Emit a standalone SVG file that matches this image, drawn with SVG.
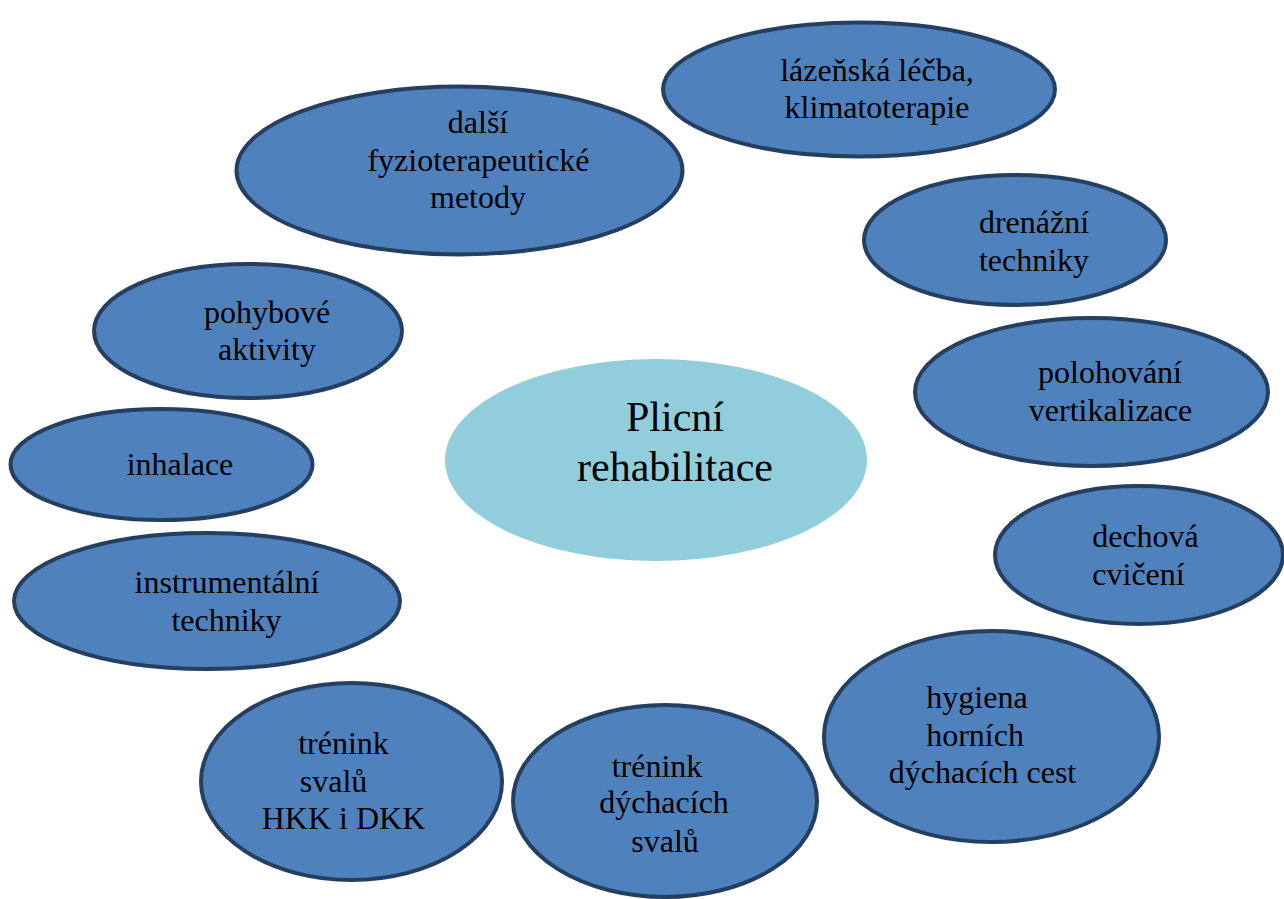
<svg xmlns="http://www.w3.org/2000/svg" width="1284" height="899" viewBox="0 0 1284 899">
<style>
.n{fill:#4f81bd;stroke:#243f60;stroke-width:4}
.c{fill:#92cddc}
text{font-family:"Liberation Serif","Times New Roman",serif;font-size:32px;fill:#000;text-anchor:middle}
.big{font-size:42px}
</style>
<rect width="1284" height="899" fill="#fff"/>
<g id="connectors"></g>
<g id="n-lazenska"><ellipse class="n" cx="859" cy="89.5" rx="196" ry="67"/><text x="877" y="81">lázeňská léčba,</text><text x="877" y="118">klimatoterapie</text></g>
<g id="n-dalsi"><ellipse class="n" cx="459.5" cy="170.5" rx="223" ry="84"/><text x="478" y="133">další</text><text x="478.5" y="171">fyzioterapeutické</text><text x="478" y="208">metody</text></g>
<g id="n-drenazni"><ellipse class="n" cx="1015" cy="240" rx="151" ry="65"/><text x="1034" y="233">drenážní</text><text x="1034" y="271">techniky</text></g>
<g id="n-pohybove"><ellipse class="n" cx="248" cy="331" rx="154" ry="67"/><text x="267" y="323">pohybové</text><text x="267" y="360">aktivity</text></g>
<g id="n-polohovani"><ellipse class="n" cx="1091.5" cy="392" rx="176.5" ry="74"/><text x="1110" y="383">polohování</text><text x="1110.5" y="421">vertikalizace</text></g>
<g id="n-inhalace"><ellipse class="n" cx="161.5" cy="464.5" rx="151" ry="55.5"/><text x="180" y="475">inhalace</text></g>
<g id="n-center"><ellipse class="c" cx="656" cy="460" rx="211" ry="101"/><text class="big" x="675" y="431">Plicní</text><text class="big" x="675" y="481">rehabilitace</text></g>
<g id="n-dechova"><ellipse class="n" cx="1139" cy="555" rx="144" ry="69"/><text x="1145.5" y="547">dechová</text><text x="1138.5" y="585">cvičení</text></g>
<g id="n-instrumentalni"><ellipse class="n" cx="207" cy="601" rx="193" ry="68"/><text x="227" y="593">instrumentální</text><text x="226.5" y="631">techniky</text></g>
<g id="n-hygiena"><ellipse class="n" cx="991.5" cy="736.5" rx="167.5" ry="105.5"/><text x="977" y="708">hygiena</text><text x="975" y="746">horních</text><text x="982.5" y="783">dýchacích cest</text></g>
<g id="n-trenink-svalu"><ellipse class="n" cx="351.5" cy="781.5" rx="150.5" ry="98.5"/><text x="343.5" y="754">trénink</text><text x="333.5" y="792">svalů</text><text x="343.5" y="829">HKK i DKK</text></g>
<g id="n-trenink-dych"><ellipse class="n" cx="665" cy="801" rx="152" ry="96"/><text x="657" y="777">trénink</text><text x="664" y="813">dýchacích</text><text x="665" y="852">svalů</text></g>
</svg>
